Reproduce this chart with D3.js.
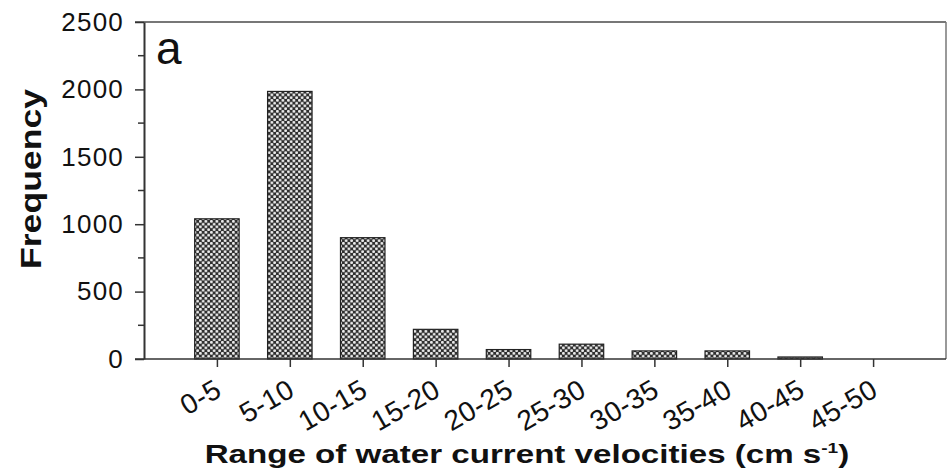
<!DOCTYPE html>
<html>
<head>
<meta charset="utf-8">
<style>
  body { margin: 0; background: #fff; }
  text { font-family: "Liberation Sans", Arial, sans-serif; }
</style>
</head>
<body>
<script src="https://d3js.org/d3.v7.min.js"></script>
<svg id="chart" width="948" height="473"></svg>
<script>
const categories = ['0-5', '5-10', '10-15', '15-20', '20-25', '25-30', '30-35', '35-40', '40-45', '45-50'];
const frequency = [1040, 1985, 900, 220, 70, 110, 60, 60, 15, 0];
const yTicks = [0, 500, 1000, 1500, 2000, 2500];
const yMinorTicks = [250, 750, 1250, 1750, 2250];

const margin = {top: 22, right: 2, bottom: 114, left: 144};
const svg = d3.select('#chart');
const width = +svg.attr('width');
const height = +svg.attr('height');
const innerW = width - margin.left - margin.right;
const innerH = height - margin.top - margin.bottom;

// dotted fill like the original hatch
const pat = svg.append('defs').append('pattern')
  .attr('id', 'dots')
  .attr('patternUnits', 'userSpaceOnUse')
  .attr('width', 5.5).attr('height', 5.5);
pat.append('rect').attr('width', 5.5).attr('height', 5.5).attr('fill', '#2e2e2e');
pat.append('circle').attr('cx', 1.4).attr('cy', 1.4).attr('r', 1.45).attr('fill', '#eee');
pat.append('circle').attr('cx', 4.1).attr('cy', 4.1).attr('r', 1.45).attr('fill', '#eee');

const g = svg.append('g').attr('transform', `translate(${margin.left},${margin.top})`);

const x = d3.scalePoint().domain(categories).range([0, innerW]).padding(1);
const step = x.step();
const barW = step * 0.61;
const y = d3.scaleLinear().domain([0, 2500]).range([innerH, 0]);

// bars
g.append('g').selectAll('rect')
  .data(categories)
  .join('rect')
  .attr('x', (d) => x(d) - barW / 2)
  .attr('width', barW)
  .attr('y', (d, i) => y(frequency[i]))
  .attr('height', (d, i) => innerH - y(frequency[i]))
  .attr('fill', 'url(#dots)')
  .attr('stroke', '#222')
  .attr('stroke-width', 1.2);

// frame: top + right
g.append('line').attr('x1', -9).attr('x2', innerW).attr('y1', 0).attr('y2', 0)
  .attr('stroke', '#777').attr('stroke-width', 2);
g.append('line').attr('x1', innerW).attr('x2', innerW).attr('y1', 0).attr('y2', innerH)
  .attr('stroke', '#777').attr('stroke-width', 1.5);

// y axis
const yAxis = d3.axisLeft(y).tickValues(yTicks).tickFormat(d3.format('d'))
  .tickSize(9).tickPadding(11).tickSizeOuter(0);
const ya = g.append('g').call(yAxis);
ya.select('.domain').attr('stroke', '#333').attr('stroke-width', 2);
ya.selectAll('.tick line').attr('stroke', '#333').attr('stroke-width', 1.5);
ya.selectAll('.tick text')
  .attr('font-size', 26)
  .attr('letter-spacing', '1.2px')
  .attr('fill', '#111')
  .attr('font-family', '"Liberation Sans", Arial, sans-serif');

g.append('g').selectAll('line')
  .data(yMinorTicks)
  .join('line')
  .attr('x1', -6).attr('x2', 0)
  .attr('y1', (d) => y(d)).attr('y2', (d) => y(d))
  .attr('stroke', '#333').attr('stroke-width', 1.5);

// x axis
const xAxis = d3.axisBottom(x).tickSize(8).tickSizeOuter(0);
const xa = g.append('g').attr('transform', `translate(0,${innerH})`).call(xAxis);
xa.select('.domain').attr('d', `M-9,0H${innerW}`).attr('stroke', '#333').attr('stroke-width', 1.5);
xa.selectAll('.tick line').attr('stroke', '#333').attr('stroke-width', 1.5);
xa.selectAll('.tick text')
  .attr('font-size', 28)
  .attr('letter-spacing', '0.4px')
  .attr('fill', '#111')
  .attr('font-family', '"Liberation Sans", Arial, sans-serif')
  .attr('text-anchor', 'end')
  .attr('dy', null)
  .attr('y', null)
  .attr('transform', 'translate(6,36) rotate(-30)');

// panel letter
g.append('text')
  .text('a')
  .attr('x', 12).attr('y', 42)
  .attr('font-size', 46)
  .attr('fill', '#111');

// x title
const xt = svg.append('text')
  .attr('font-size', 26)
  .attr('font-weight', 'bold')
  .attr('fill', '#111')
  .attr('text-anchor', 'middle')
  .attr('x', 0).attr('y', 0);
xt.append('tspan').text('Range of water current velocities (cm s');
xt.append('tspan').text('-1').attr('font-size', 15).attr('dy', -10);
xt.append('tspan').text(')').attr('dy', 10);
const xtW = xt.node().getComputedTextLength();
xt.attr('transform', `translate(527,463) scale(${645 / xtW},1)`);

// y title
svg.append('text')
  .text('Frequency')
  .attr('font-size', 30)
  .attr('font-weight', 'bold')
  .attr('fill', '#111')
  .attr('text-anchor', 'middle')
  .attr('textLength', 180)
  .attr('lengthAdjust', 'spacingAndGlyphs')
  .attr('transform', 'translate(41,179) rotate(-90)');
</script>
</body>
</html>
